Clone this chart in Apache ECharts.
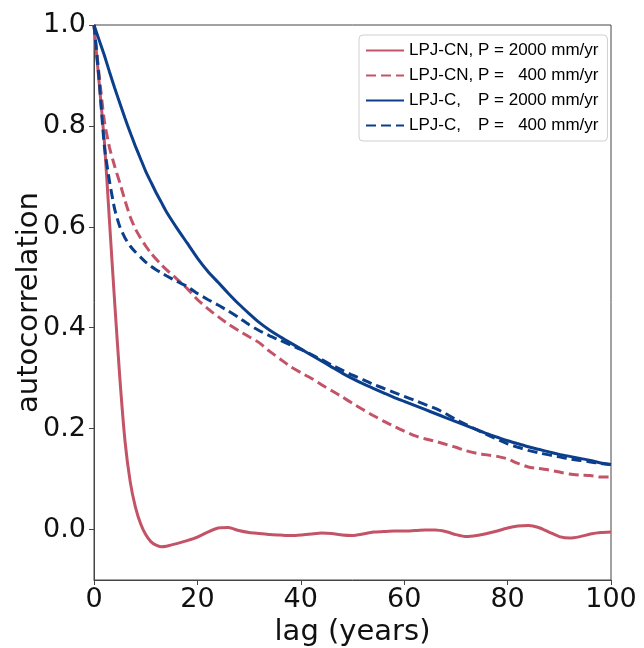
<!DOCTYPE html>
<html>
<head>
<meta charset="utf-8">
<script src="https://cdn.jsdelivr.net/npm/echarts@6/dist/echarts.min.js"></script>
<style>
html,body{margin:0;padding:0;background:#fff;}
#chart{width:644px;height:648px;}
</style>
</head>
<body>
<div id="chart"></div>
<script>
// lag (years)
var lags = [0,1,2,3,4,5,6,7,8,9,10,11,12,13,14,
  16,18,20,22,24,26,28,30,32,34,36,38,40,42,44,46,48,50,52,54,56,58,60,
  62,64,66,68,70,72,74,76,78,80,82,84,86,88,90,92,94,96,98,100];

var cn2000 = [1.0,0.885,0.77,0.61,0.45,0.30,0.175,0.095,0.045,0.012,-0.01,-0.024,-0.031,-0.034,-0.033,
  -0.028,-0.022,-0.015,-0.005,0.003,0.004,-0.002,-0.006,-0.008,-0.01,-0.011,-0.012,-0.011,-0.009,-0.007,
  -0.008,-0.011,-0.012,-0.009,-0.005,-0.004,-0.003,-0.003,-0.002,-0.001,-0.001,-0.004,-0.01,-0.014,-0.012,
  -0.008,-0.003,0.003,0.007,0.008,0.004,-0.005,-0.014,-0.017,-0.014,-0.009,-0.006,-0.005];

var cn400 = [1.0,0.9,0.81,0.757,0.72,0.687,0.652,0.62,0.596,0.578,0.562,0.548,0.536,0.525,0.515,
  0.497,0.478,0.456,0.438,0.422,0.407,0.394,0.382,0.37,0.353,0.338,0.323,0.311,0.3,0.287,
  0.275,0.263,0.25,0.238,0.226,0.215,0.205,0.195,0.186,0.18,0.175,0.169,0.163,0.156,0.151,
  0.148,0.145,0.14,0.131,0.124,0.121,0.118,0.114,0.11,0.108,0.107,0.104,0.104];

var c2000 = [1.0,0.97,0.94,0.907,0.875,0.845,0.815,0.787,0.76,0.735,0.71,0.689,0.668,0.649,0.63,
  0.598,0.568,0.538,0.512,0.49,0.468,0.447,0.428,0.41,0.395,0.382,0.37,0.358,0.346,0.334,
  0.322,0.31,0.299,0.289,0.28,0.271,0.262,0.254,0.246,0.238,0.23,0.222,0.214,0.206,0.198,
  0.19,0.183,0.176,0.17,0.164,0.159,0.154,0.149,0.145,0.141,0.137,0.132,0.129];

var c400 = [1.0,0.89,0.76,0.69,0.635,0.6,0.578,0.562,0.55,0.54,0.53,0.522,0.515,0.509,0.503,
  0.492,0.482,0.468,0.456,0.445,0.433,0.42,0.406,0.394,0.384,0.375,0.366,0.357,0.347,0.337,
  0.326,0.316,0.306,0.297,0.288,0.28,0.272,0.264,0.256,0.248,0.24,0.23,0.218,0.208,0.198,
  0.188,0.179,0.17,0.163,0.157,0.152,0.148,0.144,0.14,0.137,0.134,0.131,0.129];

var seriesNames = ['LPJ-CN, P = 2000 mm/yr','LPJ-CN, P =   400 mm/yr','LPJ-C,   P = 2000 mm/yr','LPJ-C,   P =   400 mm/yr'];
var yTicks = [0, 0.2, 0.4, 0.6, 0.8, 1.0];
var xTicks = [0, 20, 40, 60, 80, 100];

var RED = '#c35467';
var BLUE = '#0c3f8b';

function pairs(vals){ return lags.map(function(l,i){ return [l, vals[i]]; }); }

function mkSeries(name, vals, color, dashed){
  return {
    name: name, type: 'line', data: pairs(vals), showSymbol: false, symbol: 'circle',
    smooth: 0.2, animation: false,
    lineStyle: { color: color, width: 3, type: dashed ? [10, 5] : 'solid' },
    itemStyle: { color: color }
  };
}

var chart = echarts.init(document.getElementById('chart'), null, {renderer: 'canvas'});
var FONT = 'DejaVu Sans';
var LF = 'Liberation Sans';
chart.setOption({
  backgroundColor: '#fff',
  animation: false,
  grid: { left: 94, right: 33, top: 25, bottom: 68, show: true, borderColor: '#444', borderWidth: 1,
    containLabel: false, outerBoundsMode: 'none' },
  legend: {
    orient: 'vertical', left: 359, top: 35,
    padding: [7, 9, 7, 6], itemGap: 8,
    itemWidth: 38, itemHeight: 14,
    borderColor: '#d0d0d0', borderWidth: 1, borderRadius: 4, backgroundColor: '#fff',
    itemStyle: { opacity: 0 },
    data: seriesNames,
    formatter: function(name){
      var m = name.match(/^(\S+,)\s+(.*)$/);
      return '{m|' + m[1] + '}{r|' + m[2] + '}';
    },
    textStyle: {
      fontFamily: LF, fontSize: 17, color: '#000', lineHeight: 17,
      rich: {
        m: { fontFamily: LF, fontSize: 17, width: 69, color: '#000' },
        r: { fontFamily: LF, fontSize: 17, color: '#000' }
      }
    }
  },
  xAxis: {
    type: 'value', min: 0, max: 100, interval: 20,
    name: 'lag (years)', nameLocation: 'middle', nameGap: 38, nameMoveOverlap: false,
    nameTextStyle: { fontFamily: FONT, fontSize: 29, color: '#111' },
    axisLine: { show: true, onZero: false, lineStyle: { color: '#444', width: 1 } },
    axisTick: { show: true, inside: false, length: 5, lineStyle: { color: '#444' }, customValues: xTicks },
    axisLabel: { fontFamily: FONT, fontSize: 27, color: '#111', margin: 6, customValues: xTicks },
    splitLine: { show: false }
  },
  yAxis: {
    type: 'value', min: -0.1, max: 1.0,
    name: 'autocorrelation', nameLocation: 'middle', nameGap: 50, nameMoveOverlap: false,
    nameTextStyle: { fontFamily: FONT, fontSize: 29, color: '#111' },
    axisLine: { show: true, onZero: false, lineStyle: { color: '#444', width: 1 } },
    axisTick: { show: true, inside: false, length: 5, lineStyle: { color: '#444' }, customValues: yTicks },
    axisLabel: { fontFamily: FONT, fontSize: 27, color: '#111', margin: 8, customValues: yTicks,
      formatter: function(v){ return v.toFixed(1); } },
    splitLine: { show: false }
  },
  series: [
    mkSeries(seriesNames[0], cn2000, RED, false),
    mkSeries(seriesNames[1], cn400, RED, true),
    mkSeries(seriesNames[2], c2000, BLUE, false),
    mkSeries(seriesNames[3], c400, BLUE, true)
  ]
});
</script>
</body>
</html>
